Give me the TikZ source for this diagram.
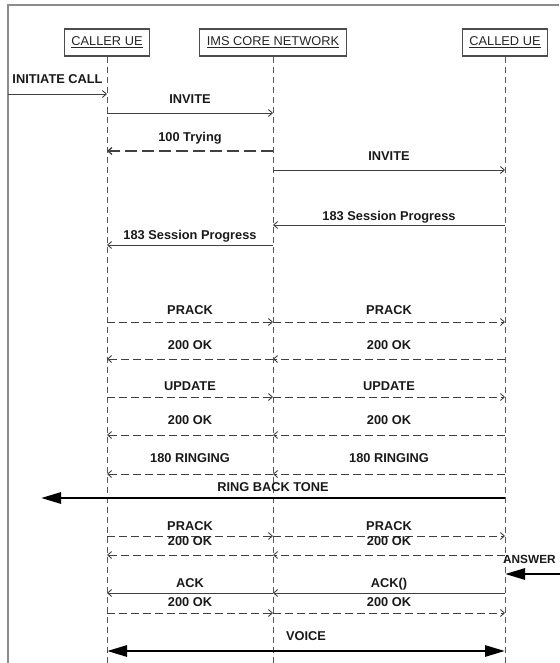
\documentclass[tikz,border=0pt]{standalone}
\usepackage{fontspec}
\setmainfont{Liberation Sans}
\usetikzlibrary{arrows.meta}

\begin{document}
\begin{tikzpicture}[x=1pt,y=-1pt,
		actor/.style={draw=black!70, line width=1.1pt, minimum width=85pt, minimum height=27pt, inner sep=0pt, text=black!85, font=\fontsize{12.8}{14}\selectfont},
		life/.style={draw=black!65, line width=0.9pt, dash pattern=on 6pt off 4pt},
		msg/.style={draw=black!75, line width=0.9pt, -{Straight Barb[length=4pt,width=7pt]}},
		rsp/.style={msg, dash pattern=on 8pt off 4pt},
		big/.style={draw=black, line width=2.8pt, -{Triangle[length=20pt,width=11pt]}},
		voice/.style={draw=black, line width=2.8pt, {Triangle[length=20pt,width=11pt]}-{Triangle[length=20pt,width=11pt]}},
		lbl/.style={font=\bfseries\fontsize{12.8}{14}\selectfont, text=black!90, inner sep=0pt, text height=9pt, text depth=0pt}]
		\useasboundingbox (0,0) rectangle (559,663);
		
		% frame
		\draw[black!45, line width=1.5pt] (8,663) -- (8,5) -- (559,5);
		
		\node[actor] (caller) at (107,42.5) {\underline{CALLER UE}};
		\node[actor, minimum width=147pt] (ims) at (273,42.5) {\underline{IMS CORE NETWORK}};
		\node[actor] (called) at (505,42.5) {\underline{CALLED UE}};
		
		\foreach \n in {caller,ims,called}
			\draw[life] (\n.south) -- (\n|-0,663);
		
		\coordinate (ext) at (8,94);
		\draw[msg] (ext) -- node[lbl, yshift=15pt] (init) {INITIATE CALL} (caller|-ext);
		\draw[msg] (caller|-0,113) -- node[lbl, yshift=14pt] (inv1) {INVITE} (ims|-0,113);
		\draw[msg, line width=1.3pt, dash pattern=on 12pt off 5pt] (ims|-0,151) -- node[lbl, yshift=14pt] (try) {100 Trying} (caller|-0,151);
		\draw[msg] (ims|-0,170) -- node[lbl, yshift=14pt] (inv2) {INVITE} (called|-0,170);
		\draw[msg] (called|-0,225) -- node[lbl, yshift=9pt] (sp1) {183 Session Progress} (ims|-0,225);
		\draw[msg] (ims|-0,245) -- node[lbl, yshift=10pt] (sp2) {183 Session Progress} (caller|-0,245);
		
		% requests
		\foreach \y/\d/\t in {322/12/PRACK, 397/11/UPDATE, 536/10/PRACK, 613/11/200 OK}{
			\draw[rsp] (caller|-0,\y) -- node[lbl, yshift=\d pt] (a\y) {\t} (ims|-0,\y);
			\draw[rsp] (ims|-0,\y) -- node[lbl, yshift=\d pt] (b\y) {\t} (called|-0,\y);
		}
		% responses
		\foreach \y/\d/\t in {359/14/200 OK, 435/15/200 OK, 474/16/180 RINGING, 555/14/200 OK}{
			\draw[rsp] (called|-0,\y) -- node[lbl, yshift=\d pt] (b\y) {\t} (ims|-0,\y);
			\draw[rsp] (ims|-0,\y) -- node[lbl, yshift=\d pt] (a\y) {\t} (caller|-0,\y);
		}
		
		\coordinate (rbt) at (41,498);
		\draw[big] (called|-rbt) -- node[lbl, yshift=11pt] (tone) {RING BACK TONE} (rbt);
		
		\coordinate (ans) at (580,574);
		\draw[big] (ans) -- (called|-ans);
		\node[lbl, anchor=west, font=\bfseries\fontsize{11.8}{14}\selectfont] (answer) at (503,559) {ANSWER};
		
		\draw[msg] (called|-0,593) -- node[lbl, yshift=10pt] (ack2) {ACK()} (ims|-0,593);
		\draw[msg] (ims|-0,593) -- node[lbl, yshift=10pt] (ack1) {ACK} (caller|-0,593);
		
		\draw[voice] (caller|-0,651) -- node[lbl, yshift=15pt] (talk) {VOICE} (called|-0,651);
	\end{tikzpicture}
\end{document}
